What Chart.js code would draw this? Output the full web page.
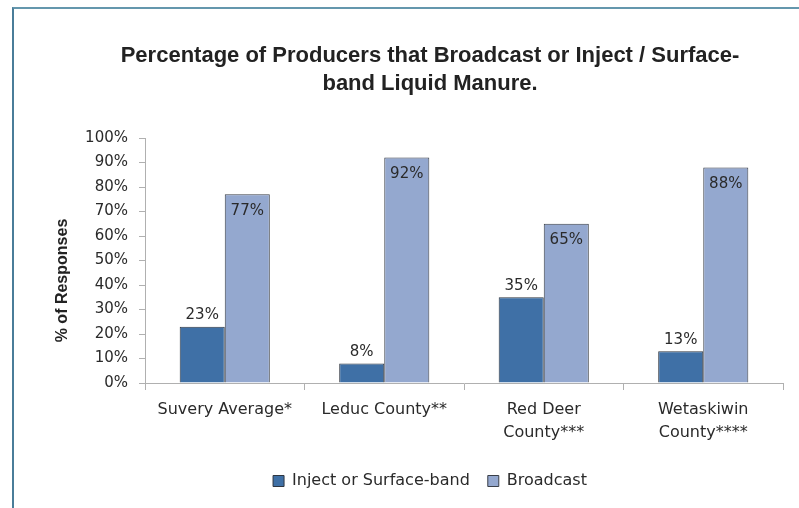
<!DOCTYPE html>
<html>
<head>
<meta charset="utf-8">
<script src="https://cdn.jsdelivr.net/npm/chart.js@4"></script>
<style>
    html, body { margin: 0; padding: 0; background: #fff; }
    body { width: 799px; height: 508px; position: relative; overflow: hidden; }
    #frame {
        position: absolute; left: 12px; top: 7px; width: 800px; height: 520px;
        border-top: 2px solid #6497ad; border-left: 2px solid #4a7d99;
    }
    #chart { position: absolute; left: 0; top: 0; }
</style>
</head>
<body>
<div id="frame"></div>
<canvas id="chart" width="799" height="508"></canvas>
<script>
const categories = [["Suvery Average*"], ["Leduc County**"], ["Red Deer", "County***"], ["Wetaskiwin", "County****"]];
const injectValues = [23, 8, 35, 13];
const broadcastValues = [77, 92, 65, 88];
const seriesNames = ["Inject or Surface-band", "Broadcast"];
const titleLines = ["Percentage of Producers that Broadcast or Inject / Surface-", "band Liquid Manure."];
const yAxisTitle = "% of Responses";

const baseFont = "'DejaVu Sans', sans-serif";
const textColor = "#2a2a2a";

// value labels: above the dark bars, inside the top of the light bars
const valueLabels = {
    id: "valueLabels",
    afterDatasetsDraw(chart) {
        const ctx = chart.ctx;
        ctx.save();
        ctx.font = "15px " + baseFont;
        ctx.fillStyle = textColor;
        ctx.textAlign = "center";
        chart.data.datasets.forEach((ds, i) => {
            const meta = chart.getDatasetMeta(i);
            meta.data.forEach((bar, j) => {
                const txt = ds.data[j] + "%";
                if (i === 0) {
                    ctx.textBaseline = "bottom";
                    ctx.fillText(txt, bar.x, bar.y - 4);
                } else {
                    ctx.textBaseline = "top";
                    ctx.fillText(txt, bar.x, bar.y + 9);
                }
            });
        });
        ctx.restore();
    }
};

// y axis title, sits a bit left and lower than the built-in one would
const yTitle = {
    id: "yTitle",
    afterDraw(chart) {
        const a = chart.chartArea;
        const ctx = chart.ctx;
        ctx.save();
        ctx.translate(a.left - 82, (a.top + a.bottom) / 2 + 20);
        ctx.rotate(-Math.PI / 2);
        ctx.font = "bold 16px 'Liberation Sans', sans-serif";
        ctx.fillStyle = "#222";
        ctx.textAlign = "center";
        ctx.textBaseline = "middle";
        ctx.fillText(yAxisTitle, 0, 0);
        ctx.restore();
    }
};

document.addEventListener("DOMContentLoaded", () => {
    const ctx = document.getElementById("chart").getContext("2d");
    new Chart(ctx, {
        type: "bar",
        data: {
            labels: categories,
            datasets: [{
                label: seriesNames[0],
                data: injectValues,
                backgroundColor: "#3f70a6",
                borderColor: "#2f3640",
                borderWidth: 1
            }, {
                label: seriesNames[1],
                data: broadcastValues,
                backgroundColor: "#94a8cf",
                borderColor: "#3a3f48",
                borderWidth: 1
            }]
        },
        options: {
            responsive: false,
            animation: false,
            categoryPercentage: 0.565,
            barPercentage: 1.0,
            layout: { padding: { left: 77, right: 16, top: 0, bottom: 9 } },
            plugins: {
                title: {
                    display: true,
                    text: titleLines,
                    color: "#222",
                    font: { family: "'Liberation Sans', sans-serif", size: 22, weight: "bold", lineHeight: 1.273 },
                    padding: { top: 42, bottom: 40 }
                },
                legend: {
                    position: "bottom",
                    labels: {
                        boxWidth: 11,
                        boxHeight: 11,
                        padding: 18,
                        color: textColor,
                        font: { family: baseFont, size: 16 }
                    }
                },
                tooltip: { enabled: false }
            },
            scales: {
                x: {
                    border: { color: "#b0b0b0" },
                    grid: { offset: true, drawOnChartArea: false, tickLength: 7, color: "#b0b0b0" },
                    ticks: { color: textColor, font: { family: baseFont, size: 16, lineHeight: 1.4 }, padding: 9, maxRotation: 0 },
                    afterFit: s => { s.height = 72; }
                },
                y: {
                    min: 0,
                    max: 100,
                    border: { color: "#b0b0b0" },
                    grid: { drawOnChartArea: false, tickLength: 6, color: "#b0b0b0" },
                    ticks: { stepSize: 10, color: textColor, font: { family: baseFont, size: 15 }, padding: 11, callback: v => v + "%" },
                    afterFit: s => { s.width = 68; }
                }
            }
        },
        plugins: [valueLabels, yTitle]
    });
});
</script>
</body>
</html>
